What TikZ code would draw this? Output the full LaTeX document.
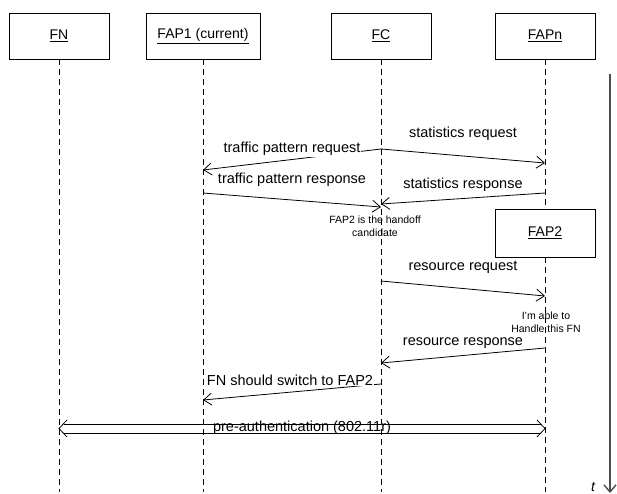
\documentclass[tikz,border=0pt]{standalone}
\usepackage{fontspec}
\setmainfont{Liberation Sans}
\usetikzlibrary{arrows.meta}
\tikzset{
  entity/.style={draw, line width=0.8pt, minimum width=100pt, minimum height=46pt,
    font=\fontsize{14}{16}\selectfont},
  lifeline/.style={line width=0.8pt, dash pattern=on 6pt off 4pt},
  msg/.style={line width=0.8pt, -{Straight Barb[length=8pt,width=12pt]}},
  msglabel/.style={fill=white, inner sep=1pt, font=\fontsize{14.5}{17}\selectfont},
  remark/.style={align=center, inner sep=0pt, font=\fontsize{10.5}{12.5}\selectfont},
}
\begin{document}
\begin{tikzpicture}[x=1pt, y=-1pt]
  \useasboundingbox (0,0) rectangle (617,494);
  % entities
  \node[entity] (fn) at (59,36) {\underline{FN}};
  \node[entity, minimum width=114pt] (fap1) at (203,36) {\underline{FAP1 (current)}};
  \node[entity] (fc) at (381,36) {\underline{FC}};
  \node[entity] (fapn) at (545,36) {\underline{FAPn}};
  \node[entity, minimum height=48pt] (fap2) at (545,233) {\underline{FAP2}};
  \coordinate (bottom) at (0,492);
  % lifelines
  \draw[lifeline] (fn.south) -- (fn.south |- bottom);
  \draw[lifeline] (fap1.south) -- (fap1.south |- bottom);
  \draw[lifeline] (fc.south) -- (fc.south |- bottom);
  \draw[lifeline] (fapn.south) -- (fap2.north);
  \draw[lifeline] (fap2.south) -- (fap2.south |- bottom);
  % message ends on the lifelines
  \coordinate (fc1) at (fc.south |- 0,149);
  \coordinate (fapn1) at (fapn.south |- 0,163);
  \coordinate (fap11) at (fap1.south |- 0,170);
  \coordinate (fap12) at (fap1.south |- 0,193);
  \coordinate (fc2) at (fc.south |- 0,207);
  \coordinate (fapn2) at (fapn.south |- 0,193);
  \coordinate (fc3) at (fc.south |- 0,204);
  \coordinate (fc4) at (fc.south |- 0,281);
  \coordinate (fap21) at (fap2.south |- 0,296);
  \coordinate (fap22) at (fap2.south |- 0,348);
  \coordinate (fc5) at (fc.south |- 0,363);
  \coordinate (fc6) at (fc.south |- 0,384);
  \coordinate (fap13) at (fap1.south |- 0,400);
  \coordinate (pa1) at (fn.south |- 0,428.5);
  \coordinate (pa2) at (fap2.south |- 0,428.5);
  % messages
  \draw[msg] (fc1) -- (fapn1);
  \draw[msg] (fc1) -- (fap11);
  \draw[msg] (fap12) -- (fc2);
  \draw[msg] (fapn2) -- (fc3);
  \draw[msg] (fc4) -- (fap21);
  \draw[msg] (fap22) -- (fc5);
  \draw[msg] (fc6) -- (fap13);
  \node[msglabel] (l1) at (463,134) {statistics request};
  \node[msglabel] (l2) at (292,149) {traffic pattern request};
  \node[msglabel] (l3) at (292,180) {traffic pattern response};
  \node[msglabel] (l4) at (463,185) {statistics response};
  \node[msglabel] (l5) at (463,267) {resource request};
  \node[msglabel] (l6) at (463,343) {resource response};
  \node[msglabel] (l7) at (290,380) {FN should switch to FAP2};
  \node[remark] (n1) at (375,226) {FAP2 is the handoff\\candidate};
  \node[remark] (n2) at (546,322) {I'm able to\\Handle this FN};
  % pre-authentication
  \draw[line width=0.8pt] ([xshift=4.5pt,yshift=4.5pt]pa1) -- ([xshift=-4.5pt,yshift=4.5pt]pa2);
  \draw[line width=0.8pt] ([xshift=4.5pt,yshift=-4.5pt]pa1) -- ([xshift=-4.5pt,yshift=-4.5pt]pa2);
  \draw[line width=0.8pt] (pa1) ++(8,-8.5) -- (pa1) -- ++(8,8.5);
  \draw[line width=0.8pt] (pa2) ++(-8,-8.5) -- (pa2) -- ++(-8,8.5);
  \node[font=\fontsize{14.5}{17}\selectfont, inner sep=0pt] (l8) at (302,428) {pre-authentication (802.11r)};
  % time
  \coordinate (t0) at (610,74);
  \coordinate (t1) at (610,493);
  \draw[black!70, line width=1.4pt, -{Straight Barb[length=7pt,width=12pt]}] (t0) -- (t1);
  \node[font=\fontsize{14}{16}\selectfont\itshape, inner sep=0pt] (tl) at (593,487) {t};
\end{tikzpicture}
\end{document}
